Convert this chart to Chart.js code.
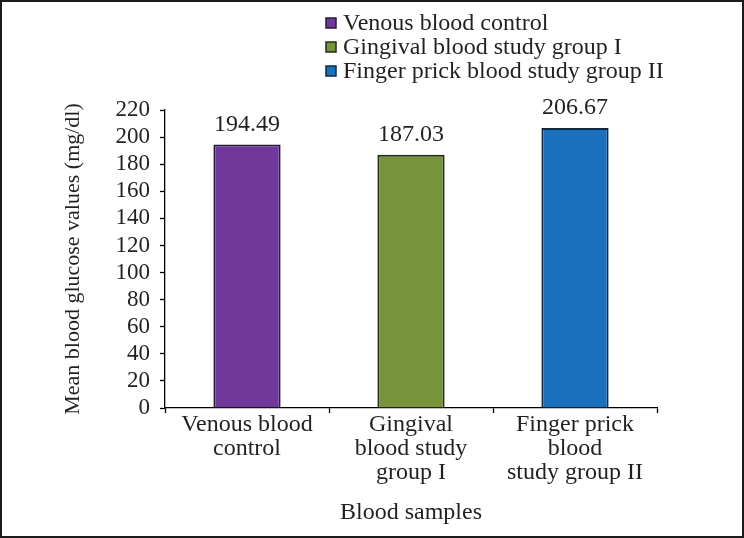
<!DOCTYPE html>
<html>
<head>
<meta charset="utf-8">
<script src="https://cdn.jsdelivr.net/npm/chart.js@4.4.0/dist/chart.umd.min.js"></script>
<style>
  html, body { margin: 0; padding: 0; background: #fff; }
  #wrap { width: 744px; height: 538px; box-sizing: border-box; border: 2px solid #1c1c1c; background: #fff; }
  #wrap canvas { display: block; }
</style>
</head>
<body>
<div id="wrap"><canvas id="myChart" width="740" height="534"></canvas></div>
<script>
'use strict'

// chart data
const categories = [
  ['Venous blood', 'control'],
  ['Gingival', 'blood study', 'group I'],
  ['Finger prick', 'blood', 'study group II']
];
const legendNames = [
  'Venous blood control',
  'Gingival blood study group I',
  'Finger prick blood study group II'
];
const glucoseMeans = [194.49, 187.03, 206.67];
const fills = ['#70389a', '#77933c', '#1a70bd'];
const edges = ['#2b1838', '#222d12', '#0f2945'];

const serif = 'Liberation Serif, Times New Roman, serif';
const ink = '#231f20';

// value labels on top of bars
const valueLabels = {
  id: 'valueLabels',
  afterDatasetsDraw(chart) {
    const ctx = chart.ctx;
    const meta = chart.getDatasetMeta(0);
    ctx.save();
    ctx.font = '24px ' + serif;
    ctx.fillStyle = ink;
    ctx.textAlign = 'center';
    ctx.textBaseline = 'middle';
    meta.data.forEach((bar, i) => {
      ctx.fillText(glucoseMeans[i].toFixed(2), bar.x, bar.y - 20);
    });
    ctx.restore();
  }
};

// stacked legend above the plot
const stackedLegend = {
  id: 'stackedLegend',
  afterDraw(chart) {
    const ctx = chart.ctx;
    ctx.save();
    ctx.font = '24px ' + serif;
    ctx.textBaseline = 'middle';
    ctx.textAlign = 'left';
    legendNames.forEach((name, i) => {
      const y = 21 + i * 24;
      ctx.fillStyle = fills[i];
      ctx.fillRect(324, y - 5, 10, 10);
      ctx.strokeStyle = edges[i];
      ctx.lineWidth = 1.5;
      ctx.strokeRect(324, y - 5, 10, 10);
      ctx.fillStyle = ink;
      ctx.fillText(name, 341, y + 1);
    });
    ctx.restore();
  }
};

const data = {
  labels: categories,
  datasets: [{
    label: 'Mean blood glucose',
    data: glucoseMeans,
    backgroundColor: fills,
    borderColor: edges,
    borderWidth: 2,
    categoryPercentage: 1,
    barPercentage: 0.41
  }]
};

const config = {
  type: 'bar',
  data: data,
  options: {
    responsive: false,
    animation: false,
    layout: { padding: { top: 108, right: 85, left: 0, bottom: 0 } },
    plugins: {
      legend: { display: false },
      tooltip: { enabled: false }
    },
    scales: {
      x: {
        afterFit(scale) { scale.height = 128; },
        grid: { offset: true, drawOnChartArea: false, color: '#000', tickLength: 5, tickWidth: 1.3 },
        border: { color: '#000', width: 1.3 },
        ticks: { color: ink, font: { family: serif, size: 24, lineHeight: 1 }, padding: 0, maxRotation: 0, autoSkip: false },
        title: { display: true, text: 'Blood samples', color: ink, font: { family: serif, size: 24, lineHeight: 1 }, padding: { top: 0, bottom: 11 } }
      },
      y: {
        min: 0,
        max: 220,
        afterFit(scale) { scale.width = 163; },
        grid: { drawOnChartArea: false, color: '#000', tickLength: 5, tickWidth: 1.3 },
        border: { color: '#000', width: 1.3 },
        ticks: { stepSize: 20, color: ink, font: { family: serif, size: 23, lineHeight: 1 }, padding: 10 },
        title: { display: true, text: 'Mean blood glucose values (mg/dl)', color: ink, font: { family: serif, size: 22, lineHeight: 1 }, padding: { top: 60, bottom: 0 } }
      }
    }
  },
  plugins: [valueLabels, stackedLegend]
};

const myChart = new Chart(document.getElementById('myChart'), config);
</script>
</body>
</html>
